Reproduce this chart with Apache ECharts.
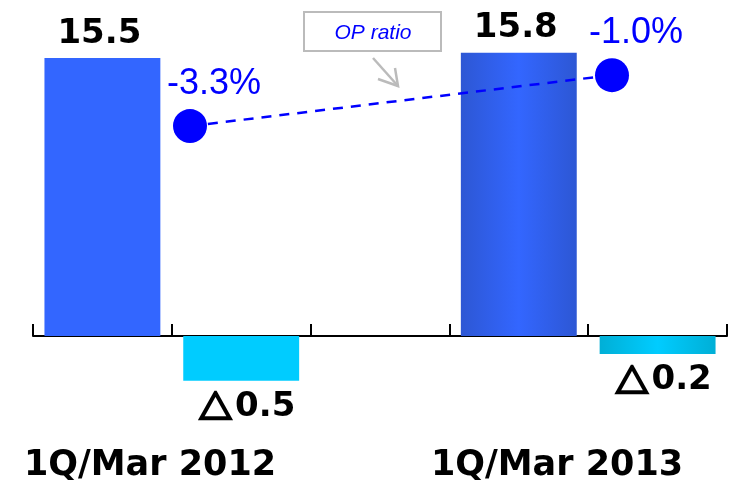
<!DOCTYPE html>
<html>
<head>
<meta charset="utf-8">
<script src="https://cdn.jsdelivr.net/npm/echarts@6/dist/echarts.min.js"></script>
<style>
  html, body { margin: 0; padding: 0; background: #fff; }
  #chart { width: 736px; height: 483px; }
</style>
</head>
<body>
<div id="chart"></div>
<script>
// slots on the main axis: sales / OP income for each period, one empty slot between
const slots = ["sales 2012", "op 2012", "gap", "sales 2013", "op 2013"];
const netSales = [15.5, "-", "-", 15.8, "-"];
const opIncome = ["-", -0.5, "-", "-", -0.2];
const periods = ["1Q/Mar 2012", "1Q/Mar 2013"];
const opRatio = [-3.3, -1.0];
const calloutText = "OP ratio";

const font = '"Liberation Sans", Arial, sans-serif';
const boldFont = '"DejaVu Sans", Verdana, sans-serif';

// bar colours (the 2013 bars get a shaded look)
function hShade(edge, mid) {
  return new echarts.graphic.LinearGradient(0, 0, 1, 0, [
    { offset: 0, color: edge },
    { offset: 0.5, color: mid },
    { offset: 1, color: edge },
  ]);
}

const chart = echarts.init(document.getElementById("chart"), null, { renderer: "canvas" });

const option = {
  animation: false,
  backgroundColor: "#fff",
  grid: [
    { left: 33, right: 9, top: 13.2, bottom: 57.3 }, // bars
    { left: 190, right: 124, top: 53, bottom: 208.5 }, // OP ratio line
    { left: 150, right: 179, top: 300, bottom: 36 }, // period labels
  ],
  xAxis: [
    {
      gridIndex: 0,
      type: "category",
      data: slots,
      axisLine: { show: true, lineStyle: { color: "#000", width: 2 } },
      axisTick: {
        show: true,
        inside: true,
        interval: 0,
        length: 12,
        lineStyle: { color: "#000", width: 2 },
      },
      axisLabel: { show: false },
    },
    { gridIndex: 1, type: "category", data: periods, boundaryGap: false, show: false },
    {
      gridIndex: 2,
      type: "category",
      data: periods,
      boundaryGap: false,
      axisLine: { show: false },
      axisTick: { show: false },
      axisLabel: {
        color: "#000",
        fontSize: 35,
        fontWeight: "bold",
        fontFamily: boldFont,
        margin: 6,
        interval: 0,
      },
    },
  ],
  yAxis: [
    { gridIndex: 0, type: "value", min: -5, max: 18, show: false },
    { gridIndex: 0, type: "value", min: -1, max: 3.6, show: false },
    { gridIndex: 1, type: "value", min: -10, max: 0, show: false },
    { gridIndex: 2, type: "value", show: false },
  ],
  series: [
    {
      name: "Net sales",
      type: "bar",
      xAxisIndex: 0,
      yAxisIndex: 0,
      data: netSales,
      barWidth: "83.5%",
      barGap: "-100%",
      itemStyle: {
        color: (p) => (p.dataIndex === 3 ? hShade("#2D57D4", "#3366FF") : "#3366FF"),
      },
      label: {
        show: true,
        position: "top",
        distance: 7,
        offset: [-3, 0],
        color: "#000",
        fontSize: 34,
        fontWeight: "bold",
        fontFamily: boldFont,
      },
    },
    {
      name: "Operating income",
      type: "bar",
      xAxisIndex: 0,
      yAxisIndex: 1,
      data: opIncome,
      barWidth: "83.5%",
      barGap: "-100%",
      itemStyle: {
        color: (p) => (p.dataIndex === 4 ? hShade("#00AFD6", "#00CCFF") : "#00CCFF"),
      },
      label: {
        show: true,
        position: "bottom",
        distance: 9,
        offset: [6, 0],
        color: "#000",
        fontSize: 34,
        fontWeight: "bold",
        fontFamily: boldFont,
        formatter: (p) => "{tri|\u25B3}" + Math.abs(p.value).toFixed(1),
        rich: {
          tri: {
            fontSize: 33,
            fontWeight: "bold",
            fontFamily: '"Noto Sans CJK JP", sans-serif',
            color: "#000",
            textBorderColor: "#000",
            textBorderWidth: 2.5,
            padding: [0, 3, 0, 0],
          },
        },
      },
    },
    {
      name: "OP ratio",
      type: "line",
      xAxisIndex: 1,
      yAxisIndex: 2,
      data: opRatio,
      symbol: "circle",
      symbolSize: 34,
      itemStyle: { color: "#0000FF" },
      lineStyle: { color: "#0000FF", width: 2.5, type: [10, 8] },
      label: {
        show: true,
        position: "top",
        distance: 4,
        offset: [24, -3],
        color: "#0000FF",
        fontSize: 36,
        fontFamily: font,
        formatter: (p) => p.value.toFixed(1) + "%",
      },
      z: 5,
    },
  ],
  graphic: [
    {
      type: "group",
      left: 303,
      top: 11,
      children: [
        {
          type: "rect",
          shape: { x: 0, y: 0, width: 137, height: 39 },
          style: { fill: "#fff", stroke: "#BBBBBB", lineWidth: 2 },
        },
        {
          type: "text",
          x: 69,
          y: 21,
          style: {
            text: calloutText,
            fill: "#0000FF",
            font: 'italic 21px "Liberation Sans", Arial, sans-serif',
            align: "center",
            verticalAlign: "middle",
          },
        },
        {
          type: "polyline",
          shape: { points: [[69, 46], [94, 74]] },
          style: { stroke: "#BBBBBB", lineWidth: 2.5, fill: null },
        },
        {
          type: "polyline",
          shape: { points: [[74, 67], [94, 74], [91, 56]] },
          style: { stroke: "#BBBBBB", lineWidth: 2.5, fill: null },
        },
      ],
    },
  ],
};

chart.setOption(option);
</script>
</body>
</html>
